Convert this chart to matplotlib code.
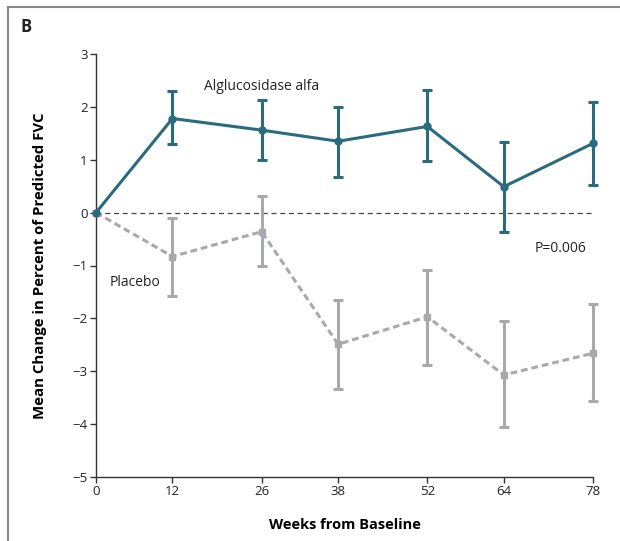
import matplotlib
matplotlib.use("Agg")
import matplotlib.pyplot as plt
from matplotlib.lines import Line2D
import numpy as np

plt.rcParams['font.family'] = ['Open Sans', 'DejaVu Sans']

weeks = [0, 12, 26, 38, 52, 64, 78]

# Alglucosidase alfa: mean, upper, lower
alglu_mean = [0.0, 1.78, 1.56, 1.35, 1.63, 0.49, 1.31]
alglu_hi = [0.0, 2.30, 2.13, 2.00, 2.31, 1.33, 2.09]
alglu_lo = [0.0, 1.29, 0.99, 0.68, 0.97, -0.36, 0.53]

# Placebo: mean, upper, lower
plac_mean = [0.0, -0.83, -0.36, -2.49, -1.97, -3.07, -2.66]
plac_hi = [0.0, -0.11, 0.32, -1.65, -1.08, -2.05, -1.73]
plac_lo = [0.0, -1.57, -1.00, -3.34, -2.88, -4.06, -3.57]

teal = '#2a6b7f'
gray = '#a8a9ac'


def draw_series(ax, mean, lo, hi, color, ls, marker, z):
    m = np.array(mean)
    err = [m[1:] - np.array(lo)[1:], np.array(hi)[1:] - m[1:]]
    eb = ax.errorbar(weeks[1:], m[1:], yerr=err, fmt='none', ecolor=color,
                     elinewidth=2.2, capsize=3.5, capthick=2.2, zorder=z)
    for art in eb.lines[1] + eb.lines[2]:
        art.set_clip_on(False)
    ax.plot(weeks, mean, color=color, lw=2.2, ls=ls, marker=marker, ms=5,
            mfc=color, mec=color, clip_on=False, zorder=z + 1)


fig = plt.figure(figsize=(6.2, 5.41), dpi=100)
ax = fig.add_axes([96 / 620, 1 - 477 / 541, (593 - 96) / 620, (477 - 54) / 541])

# zero reference line
ax.axhline(0, color='#444444', lw=0.9, ls=(0, (4, 3)), zorder=1)

draw_series(ax, plac_mean, plac_lo, plac_hi, gray, (0, (2.2, 1.3)), 's', 2)
draw_series(ax, alglu_mean, alglu_lo, alglu_hi, teal, '-', 'o', 4)

ax.set_xlim(0, 78)
ax.set_ylim(-5, 3)
ax.set_xticks(weeks)
ax.set_yticks([3, 2, 1, 0, -1, -2, -3, -4, -5])
ax.set_yticklabels(['3', '2', '1', '0', '\u22121', '\u22122', '\u22123', '\u22124', '\u22125'])
for s in ['top', 'right']:
    ax.spines[s].set_visible(False)
for s in ['left', 'bottom']:
    ax.spines[s].set_color('#333333')
    ax.spines[s].set_linewidth(1.0)
ax.tick_params(direction='out', length=4, width=1.0, color='#333333',
               labelsize=9.5, labelcolor='#222222', pad=2)

ax.set_xlabel('Weeks from Baseline', fontsize=10.5, fontweight='bold', labelpad=14)
ax.set_ylabel('Mean Change in Percent of Predicted FVC', fontsize=10.8,
              fontweight='bold', labelpad=18)

ax.text(262, 541 - 87, 'Alglucosidase alfa', transform=None, fontsize=10,
        color='#222222', ha='center', va='center')
ax.text(135, 541 - 282, 'Placebo', transform=None, fontsize=10,
        color='#222222', ha='center', va='center')
ax.text(561, 541 - 249, 'P=0.006', transform=None, fontsize=10,
        color='#222222', ha='center', va='center')

fig.text(20 / 620, 1 - 27 / 541, 'B', fontsize=12, fontweight='bold',
         ha='left', va='center', color='#222222')

# frame lines at top and left
fig.add_artist(Line2D([8 / 620, 8 / 620], [0, 1 - 7 / 541], transform=fig.transFigure,
                      color='#888888', lw=1.5))
fig.add_artist(Line2D([8 / 620, 1], [1 - 7 / 541, 1 - 7 / 541], transform=fig.transFigure,
                      color='#888888', lw=1.5))

fig.savefig('out.png', dpi=100)
